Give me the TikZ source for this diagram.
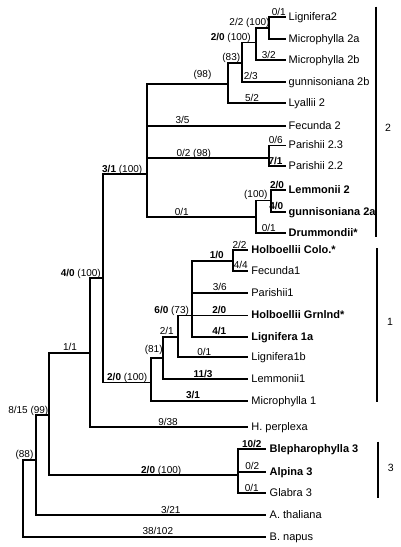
\documentclass[tikz,border=0pt]{standalone}
\usepackage{fontspec}
\setmainfont{Liberation Sans}
\begin{document}
\begin{tikzpicture}[x=1pt,y=-1pt,
  br/.style={line width=1.8pt, line cap=rect, line join=miter},
  cbar/.style={line width=1.8pt},
  leaf/.style={anchor=base west, inner sep=0pt, xshift=3.5pt, yshift=-3.3pt, font=\fontsize{11}{13}\selectfont},
  lab/.style={anchor=base, inner sep=0pt, font=\fontsize{10}{12}\selectfont},
  clab/.style={anchor=base, inner sep=0pt, font=\fontsize{10.5}{12}\selectfont}]
\useasboundingbox[fill=white] (0,0) rectangle (400,547);
% leaf tips
\coordinate (lign2) at (285,17.3);
\coordinate (mic2a) at (285,39);
\coordinate (mic2b) at (285,60);
\coordinate (gun2b) at (285,81.7);
\coordinate (lyal2) at (285,103.3);
\coordinate (fec2) at (285,125.7);
\coordinate (par23) at (285,145.5);
\coordinate (par22) at (285,166);
\coordinate (lem2) at (285,190);
\coordinate (gun2a) at (285,211.7);
\coordinate (drum) at (285,233.3);
\coordinate (holC) at (246.7,250);
\coordinate (fec1) at (246.7,270.7);
\coordinate (par1) at (246.7,292.7);
\coordinate (holG) at (246.7,315.5);
\coordinate (lig1a) at (246.7,336.7);
\coordinate (lig1b) at (246.7,357.3);
\coordinate (lem1) at (246.7,379.3);
\coordinate (mic1) at (246.7,401);
\coordinate (hper) at (246.7,427.3);
\coordinate (bleph) at (265,449.3);
\coordinate (alp) at (265,471.7);
\coordinate (glab) at (265,493.3);
\coordinate (atha) at (265,515);
\coordinate (bnap) at (265,536.7);
% internal nodes
\coordinate (root) at (22.7,460);
\coordinate (n88) at (36,460);
\coordinate (n99) at (49.3,415);
\coordinate (n11) at (90,353.3);
\coordinate (n40) at (102.7,278.3);
\coordinate (n31) at (146.7,174);
\coordinate (n98) at (228.3,84);
\coordinate (n83) at (241.7,63.3);
\coordinate (n20a) at (256,42.5);
\coordinate (n22) at (269.3,28);
\coordinate (n02) at (269.3,158.3);
\coordinate (n01) at (256,217);
\coordinate (n100) at (271,200.5);
\coordinate (n20b) at (150.7,382.5);
\coordinate (n81) at (163.3,358.3);
\coordinate (n21) at (178.3,336.7);
\coordinate (n60) at (191.7,315.5);
\coordinate (n10) at (232.7,260.7);
\coordinate (n3) at (238.3,475);
% branches
\draw[br] (root) |- (n88);  \draw[br] (root) |- (bnap);
\draw[br] (n88) |- (n99);   \draw[br] (n88) |- (atha);
\draw[br] (n99) |- (n11);   \draw[br] (n99) |- (n3);
\draw[br] (n11) |- (n40);   \draw[br] (n11) |- (hper);
\draw[br] (n40) |- (n31);   \draw[br] (n40) |- (n20b);
\draw[br] (n31) |- (n98);   \draw[br] (n31) |- (fec2);
\draw[br] (n31) |- (n02);   \draw[br] (n31) |- (n01);
\draw[br] (n98) |- (n83);   \draw[br] (n98) |- (lyal2);
\draw[br] (n83) |- (n20a);  \draw[br] (n83) |- (gun2b);
\draw[br] (n20a) |- (n22);  \draw[br] (n20a) |- (mic2b);
\draw[br] (n22) |- (lign2); \draw[br] (n22) |- (mic2a);
\draw[br] (n02) |- (par23); \draw[br] (n02) |- (par22);
\draw[br] (n01) |- (n100);  \draw[br] (n01) |- (drum);
\draw[br] (n100) |- (lem2); \draw[br] (n100) |- (gun2a);
\draw[br] (n20b) |- (n81);  \draw[br] (n20b) |- (mic1);
\draw[br] (n81) |- (n21);   \draw[br] (n81) |- (lem1);
\draw[br] (n21) |- (n60);   \draw[br] (n21) |- (lig1b);
\draw[br] (n60) |- (n10);   \draw[br] (n60) |- (par1);
\draw[br] (n60) |- (holG);  \draw[br] (n60) |- (lig1a);
\draw[br] (n10) |- (holC);  \draw[br] (n10) |- (fec1);
\draw[br] (n3) |- (bleph);  \draw[br] (n3) |- (alp);
\draw[br] (n3) |- (glab);
% leaf labels
\node[leaf] (Llign2) at (lign2) {Lignifera2};
\node[leaf] (Lmic2a) at (mic2a) {Microphylla 2a};
\node[leaf] (Lmic2b) at (mic2b) {Microphylla 2b};
\node[leaf] (Lgun2b) at (gun2b) {gunnisoniana 2b};
\node[leaf] (Llyal2) at (lyal2) {Lyallii 2};
\node[leaf] (Lfec2) at (fec2) {Fecunda 2};
\node[leaf] (Lpar23) at (par23) {Parishii 2.3};
\node[leaf] (Lpar22) at (par22) {Parishii 2.2};
\node[leaf] (Llem2) at (lem2) {\textbf{Lemmonii 2}};
\node[leaf] (Lgun2a) at (gun2a) {\textbf{gunnisoniana 2a}};
\node[leaf] (Ldrum) at (drum) {\textbf{Drummondii*}};
\node[leaf,xshift=1pt] (LholC) at (holC) {\textbf{Holboellii Colo.*}};
\node[leaf,xshift=1pt] (Lfec1) at (fec1) {Fecunda1};
\node[leaf,xshift=1pt] (Lpar1) at (par1) {Parishii1};
\node[leaf,xshift=1pt] (LholG) at (holG) {\textbf{Holboellii Grnlnd*}};
\node[leaf,xshift=1pt] (Llig1a) at (lig1a) {\textbf{Lignifera 1a}};
\node[leaf,xshift=1pt] (Llig1b) at (lig1b) {Lignifera1b};
\node[leaf,xshift=1pt] (Llem1) at (lem1) {Lemmonii1};
\node[leaf,xshift=1pt] (Lmic1) at (mic1) {Microphylla 1};
\node[leaf,xshift=1pt] (Lhper) at (hper) {H. perplexa};
\node[leaf,xshift=1pt] (Lbleph) at (bleph) {\textbf{Blepharophylla 3}};
\node[leaf,xshift=1pt] (Lalp) at (alp) {\textbf{Alpina 3}};
\node[leaf,xshift=1pt] (Lglab) at (glab) {Glabra 3};
\node[leaf,xshift=1pt] (Latha) at (atha) {A. thaliana};
\node[leaf,xshift=1pt] (Lbnap) at (bnap) {B. napus};
% branch labels
\node[lab] (b1) at (278.8,15.3) {0/1};
\node[lab] (b2) at (249.5,25.3) {2/2 (100)};
\node[lab] (b3) at (230.8,40.5) {\textbf{2/0} (100)};
\node[lab] (b4) at (268.8,58) {3/2};
\node[lab] (b5) at (231.3,60.3) {(83)};
\node[lab] (b6) at (202.5,77.6) {(98)};
\node[lab] (b7) at (250.8,79.7) {2/3};
\node[lab] (b8) at (252,101.3) {5/2};
\node[lab] (b9) at (182.5,123.2) {3/5};
\node[lab] (b10) at (275.8,143.5) {0/6};
\node[lab] (b11) at (275.5,164) {\textbf{7/1}};
\node[lab] (b12) at (193.8,156.3) {0/2 (98)};
\node[lab] (b13) at (277,188) {\textbf{2/0}};
\node[lab] (b14) at (276.3,209.5) {\textbf{4/0}};
\node[lab] (b15) at (255.8,197) {(100)};
\node[lab] (b16) at (268.8,231) {0/1};
\node[lab] (b17) at (181.7,215) {0/1};
\node[lab] (b18) at (122.2,172) {\textbf{3/1} (100)};
\node[lab] (b19) at (80.8,276) {\textbf{4/0} (100)};
\node[lab] (b20) at (239.5,248) {2/2};
\node[lab] (b21) at (216.7,258.6) {\textbf{1/0}};
\node[lab] (b22) at (240.8,268.6) {4/4};
\node[lab] (b23) at (219.7,290.7) {3/6};
\node[lab] (b24) at (171.7,313.3) {\textbf{6/0} (73)};
\node[lab] (b25) at (219.3,313.3) {\textbf{2/0}};
\node[lab] (b26) at (219.3,334.6) {\textbf{4/1}};
\node[lab] (b27) at (166.7,334.6) {2/1};
\node[lab] (b28) at (153.7,352.9) {(81)};
\node[lab] (b29) at (204.2,355.3) {0/1};
\node[lab] (b30) at (70,350) {1/1};
\node[lab] (b31) at (127.2,380.5) {\textbf{2/0} (100)};
\node[lab] (b32) at (203,377) {\textbf{11/3}};
\node[lab] (b33) at (193,398.5) {\textbf{3/1}};
\node[lab] (b34) at (28.3,413) {8/15 (99)};
\node[lab] (b35) at (168,425) {9/38};
\node[lab] (b36) at (24.5,457.5) {(88)};
\node[lab] (b37) at (161.2,473) {\textbf{2/0} (100)};
\node[lab] (b38) at (251.8,447.3) {\textbf{10/2}};
\node[lab] (b39) at (252.2,469.7) {0/2};
\node[lab] (b40) at (251.7,491.3) {0/1};
\node[lab] (b41) at (170.8,513) {3/21};
\node[lab] (b42) at (157.8,534.7) {38/102};
% clade bars
\coordinate (c2t) at (375.7,6.7);   \coordinate (c2b) at (375.7,236.7);
\coordinate (c1t) at (376.7,248.3); \coordinate (c1b) at (376.7,401.7);
\coordinate (c3t) at (378.3,441.7); \coordinate (c3b) at (378.3,498.3);
\draw[cbar] (c2t) -- (c2b);
\draw[cbar] (c1t) -- (c1b);
\draw[cbar] (c3t) -- (c3b);
\node[clab] (k2) at (388,131.7) {2};
\node[clab] (k1) at (390,325.7) {1};
\node[clab] (k3) at (390.7,471.7) {3};
\end{tikzpicture}
\end{document}
